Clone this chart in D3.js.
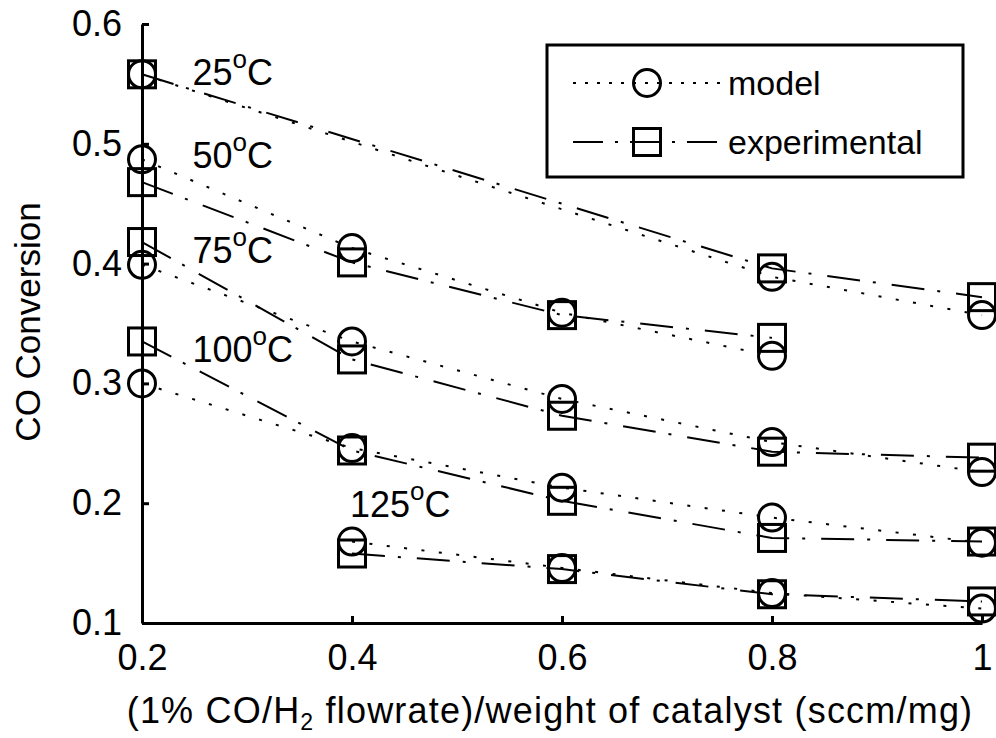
<!DOCTYPE html>
<html>
<head>
<meta charset="utf-8">
<script src="https://cdn.jsdelivr.net/npm/d3@7"></script>
<style>
	body { margin: 0; background: #fff; }
	svg { display: block; font-family: "Liberation Sans", Arial, sans-serif; }
</style>
</head>
<body>
<div id="chart"></div>
<script>
// (1% CO/H2 flowrate)/weight of catalyst (sccm/mg)
const flowrates = [0.2, 0.4, 0.6, 0.8, 1.0];
const temperatures = ["25", "50", "75", "100", "125"];

// CO conversion, one list per temperature, null = no point there
const model25 = [0.558, null, null, 0.389, 0.357];
const model50 = [0.487, 0.413, 0.359, 0.323, null];
const model75 = [0.399, 0.335, 0.287, 0.251, 0.226];
const model100 = [0.300, 0.246, 0.213, 0.188, 0.167];
const model125 = [null, 0.168, 0.146, 0.125, 0.112];

const experimental25 = [0.558, null, null, 0.396, 0.372];
const experimental50 = [0.468, 0.401, 0.357, 0.338, null];
const experimental75 = [0.418, 0.320, 0.273, 0.243, 0.238];
const experimental100 = [0.335, 0.244, 0.202, 0.171, 0.168];
const experimental125 = [null, 0.158, 0.145, 0.124, 0.118];

const xTicks = [0.2, 0.4, 0.6, 0.8, 1];
const yTicks = [0.1, 0.2, 0.3, 0.4, 0.5, 0.6];

// temperature annotations, anchored in data units
const labelX = [0.248, 0.248, 0.248, 0.248, 0.398];
const labelY = [0.549, 0.480, 0.4005, 0.318, 0.1885];

class ConversionChart {
	constructor(container, config) {
		this.config = Object.assign({
			width: 996,
			height: 738,
			margin: { left: 142, top: 24, right: 14, bottom: 115 },
			fontSize: 36,
		}, config);
		this.containerParam = container;
	}
	Draw() {
		this._initContainer();
		this._initScales();
		this._drawAxes();
		this._drawSeries();
		this._drawLabels();
		this._drawLegend();
	}
	_initContainer() {
		this.svg = d3.select(this.containerParam)
			.append("svg")
			.attr("width", this.config.width)
			.attr("height", this.config.height);
		this.svg.append("rect")
			.attr("width", this.config.width)
			.attr("height", this.config.height)
			.attr("fill", "#fff");
	}
	_initScales() {
		const c = this.config;
		this.x = d3.scaleLinear().domain([0.2, 1]).range([c.margin.left, c.width - c.margin.right]);
		this.y = d3.scaleLinear().domain([0.1, 0.6]).range([c.height - c.margin.bottom, c.margin.top]);
	}
	_drawAxes() {
		const c = this.config;
		const xAxis = d3.axisBottom(this.x).tickValues(xTicks).tickFormat(d => d)
			.tickSizeInner(-7).tickSizeOuter(0).tickPadding(21);
		const yAxis = d3.axisLeft(this.y).tickValues(yTicks).tickFormat(d => d)
			.tickSizeInner(-7).tickSizeOuter(0).tickPadding(20);

		const gx = this.svg.append("g")
			.attr("transform", `translate(0,${ this.y(0.1) })`)
			.call(xAxis);
		const gy = this.svg.append("g")
			.attr("transform", `translate(${ this.x(0.2) },0)`)
			.call(yAxis);

		[gx, gy].forEach(g => {
			g.attr("font-size", c.fontSize).attr("font-family", null);
			g.select(".domain").attr("stroke", "#000").attr("stroke-width", 3);
			g.selectAll(".tick line").attr("stroke", "#000").attr("stroke-width", 3);
			g.selectAll(".tick text").attr("fill", "#000");
		});

		// x label with subscript 2
		const xl = this.svg.append("text")
			.attr("x", 550)
			.attr("y", 723)
			.attr("text-anchor", "middle")
			.attr("font-size", 36)
			.attr("letter-spacing", 1.2);
		xl.append("tspan").text("(1% CO/H");
		xl.append("tspan").attr("font-size", 23).attr("dy", 7).text("2");
		xl.append("tspan").attr("dy", -7).text(" flowrate)/weight of catalyst (sccm/mg)");

		this.svg.append("text")
			.attr("transform", "translate(40,322) rotate(-90)")
			.attr("text-anchor", "middle")
			.attr("font-size", 35)
			.text("CO Conversion");
	}
	_points(values) {
		return flowrates.map((f, i) => [f, values[i]]).filter(d => d[1] !== null);
	}
	_drawSeries() {
		const line = d3.line().x(d => this.x(d[0])).y(d => this.y(d[1]));
		const modelSeries = [model25, model50, model75, model100, model125];
		const experimentalSeries = [experimental25, experimental50, experimental75, experimental100, experimental125];

		const g = this.svg.append("g");

		temperatures.forEach((t, i) => {
			const mp = this._points(modelSeries[i]);
			const ep = this._points(experimentalSeries[i]);

			g.append("path")
				.attr("d", line(mp))
				.attr("fill", "none")
				.attr("stroke", "#000")
				.attr("stroke-width", 2)
				.attr("stroke-dasharray", "3,14.5");
			g.selectAll(null)
				.data(mp)
				.enter()
				.append("circle")
				.attr("cx", d => this.x(d[0]))
				.attr("cy", d => this.y(d[1]))
				.attr("r", 13.5)
				.attr("fill", "none")
				.attr("stroke", "#000")
				.attr("stroke-width", 3);

			g.append("path")
				.attr("d", line(ep))
				.attr("fill", "none")
				.attr("stroke", "#000")
				.attr("stroke-width", 2)
				.attr("stroke-dasharray", "33,13,3,16");
			g.selectAll(null)
				.data(ep)
				.enter()
				.append("rect")
				.attr("x", d => this.x(d[0]) - 13.5)
				.attr("y", d => this.y(d[1]) - 13.5)
				.attr("width", 27)
				.attr("height", 27)
				.attr("fill", "none")
				.attr("stroke", "#000")
				.attr("stroke-width", 3);
		});
	}
	_drawLabels() {
		temperatures.forEach((t, i) => {
			const txt = this.svg.append("text")
				.attr("x", this.x(labelX[i]))
				.attr("y", this.y(labelY[i]))
				.attr("font-size", 36);
			txt.append("tspan").text(t);
			txt.append("tspan").attr("font-size", 26).attr("dy", -17).text("o");
			txt.append("tspan").attr("dy", 17).text("C");
		});
	}
	_drawLegend() {
		const lg = this.svg.append("g");
		lg.append("rect")
			.attr("x", 547).attr("y", 45)
			.attr("width", 416).attr("height", 132)
			.attr("fill", "#fff")
			.attr("stroke", "#000")
			.attr("stroke-width", 3);

		const rows = [
			{ name: "model", y: 83, dash: "3,9", marker: "circle" },
			{ name: "experimental", y: 142, dash: "30,12,3,12", marker: "square" },
		];
		rows.forEach(r => {
			lg.append("line")
				.attr("x1", 573).attr("x2", 721)
				.attr("y1", r.y).attr("y2", r.y)
				.attr("stroke", "#000")
				.attr("stroke-width", 2)
				.attr("stroke-dasharray", r.dash);
			if (r.marker === "circle") {
				lg.append("circle")
					.attr("cx", 647).attr("cy", r.y).attr("r", 13.5)
					.attr("fill", "none").attr("stroke", "#000").attr("stroke-width", 3);
			} else {
				lg.append("rect")
					.attr("x", 647 - 13.5).attr("y", r.y - 13.5)
					.attr("width", 27).attr("height", 27)
					.attr("fill", "none").attr("stroke", "#000").attr("stroke-width", 3);
			}
			lg.append("text")
				.attr("x", 728)
				.attr("y", r.y + 12)
				.attr("font-size", 34)
				.text(r.name);
		});
	}
}

new ConversionChart("#chart").Draw();
</script>
</body>
</html>
